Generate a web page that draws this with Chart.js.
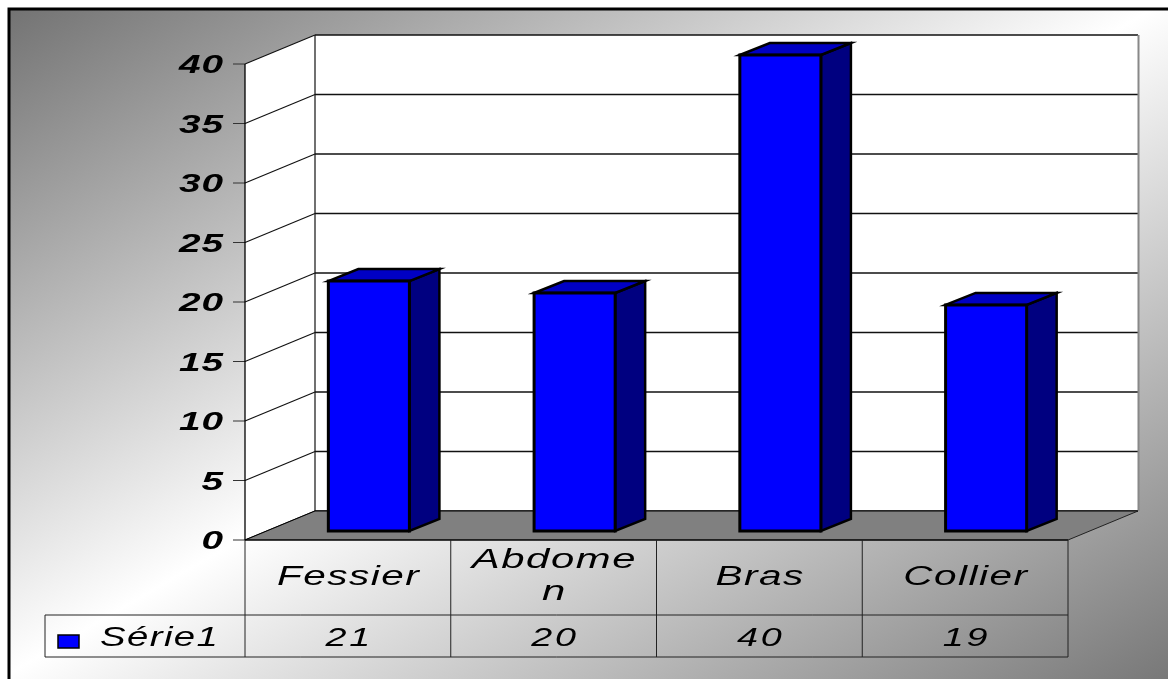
<!DOCTYPE html>
<html>
<head>
<meta charset="utf-8">
<script src="https://cdn.jsdelivr.net/npm/chart.js@4/dist/chart.umd.min.js"></script>
<style>
  html, body { margin: 0; padding: 0; background: #fff; }
  canvas { display: block; }
</style>
</head>
<body>
<canvas id="myChart" width="1168" height="679"></canvas>
<script>
    // data
    const categories = ['Fessier', 'Abdomen', 'Bras', 'Collier'];
    const tickLabels = ['Fessier', ['Abdome', 'n'], 'Bras', 'Collier'];
    const seriesName = 'Série1';
    const values = [21, 20, 40, 19];
    const yTicks = [0, 5, 10, 15, 20, 25, 30, 35, 40];

    // 3d offsets relative to the plane the bar fronts sit on
    const FRONT = { dx: -21, dy: 9 };   // front edge of floor / axis
    const BACK = { dx: 49, dy: -20 };   // back wall
    const BAR_DEPTH = { dx: 30, dy: -12 };

    const FONT = '"Liberation Sans", Arial, sans-serif';

    // stretched text, the way the old office charts print it
    function wideText(ctx, str, x, baseY, font, sx, ls, align) {
      ctx.save();
      ctx.font = font;
      ctx.letterSpacing = ls + 'px';
      const w = (ctx.measureText(str).width - ls) * sx;
      let x0 = x - w / 2;
      if (align === 'right') x0 = x - w;
      if (align === 'left') x0 = x;
      ctx.translate(x0, baseY);
      ctx.scale(sx, 1);
      ctx.textAlign = 'left';
      ctx.fillStyle = '#000';
      ctx.fillText(str, 0, 0);
      ctx.restore();
    }

    function poly(ctx, pts, fill, stroke, lw) {
      ctx.beginPath();
      ctx.moveTo(pts[0][0], pts[0][1]);
      for (let i = 1; i < pts.length; i++) ctx.lineTo(pts[i][0], pts[i][1]);
      ctx.closePath();
      if (fill) { ctx.fillStyle = fill; ctx.fill(); }
      if (stroke) { ctx.strokeStyle = stroke; ctx.lineWidth = lw; ctx.stroke(); }
    }

    function line(ctx, x1, y1, x2, y2, color, lw) {
      ctx.beginPath();
      ctx.moveTo(x1, y1);
      ctx.lineTo(x2, y2);
      ctx.strokeStyle = color;
      ctx.lineWidth = lw;
      ctx.stroke();
    }

    const scene3d = {
      id: 'scene3d',
      beforeDraw(chart) {
        const ctx = chart.ctx;
        const W = chart.width, H = chart.height;
        ctx.save();
        ctx.fillStyle = '#fff';
        ctx.fillRect(0, 0, W, H);
        // diagonal gray-white-gray fill
        const g = ctx.createLinearGradient(289, -168, 879, 847);
        g.addColorStop(0, '#707070');
        g.addColorStop(0.5, '#ffffff');
        g.addColorStop(1, '#787878');
        ctx.fillStyle = g;
        ctx.fillRect(8, 8, W, H);
        ctx.strokeStyle = '#000';
        ctx.lineWidth = 3;
        ctx.strokeRect(9, 9, W + 20, H + 20);
        ctx.restore();
      },
      beforeDatasetsDraw(chart) {
        const ctx = chart.ctx;
        const a = chart.chartArea;
        const ys = chart.scales.y;
        const y0 = ys.getPixelForValue(0), yTop = ys.getPixelForValue(yTicks[yTicks.length - 1]);
        const fl = a.left + FRONT.dx, fr = a.right + FRONT.dx;
        const bl = a.left + BACK.dx, br = a.right + BACK.dx;
        ctx.save();
        // back wall
        poly(ctx, [[bl, yTop + BACK.dy], [br, yTop + BACK.dy], [br, y0 + BACK.dy], [bl, y0 + BACK.dy]], '#fff');
        // side wall
        poly(ctx, [[fl, yTop + FRONT.dy], [bl, yTop + BACK.dy], [bl, y0 + BACK.dy], [fl, y0 + FRONT.dy]], '#fff');
        // gridlines on both walls
        yTicks.forEach(v => {
          const y = ys.getPixelForValue(v);
          line(ctx, fl, y + FRONT.dy, bl, y + BACK.dy, '#111', 1.2);
          line(ctx, bl, y + BACK.dy, br, y + BACK.dy, '#111', 1.3);
          // tick marks
          line(ctx, fl - 12, y + FRONT.dy, fl, y + FRONT.dy, '#333', 1);
        });
        line(ctx, bl, yTop + BACK.dy, bl, y0 + BACK.dy, '#111', 1.2);
        line(ctx, br + 0.5, yTop + BACK.dy, br + 0.5, y0 + BACK.dy, '#888', 2);
        line(ctx, fl, yTop + FRONT.dy, fl, y0 + FRONT.dy, '#000', 1.3);
        // floor
        poly(ctx, [[fl, y0 + FRONT.dy], [bl, y0 + BACK.dy], [br, y0 + BACK.dy], [fr, y0 + FRONT.dy]], '#808080');
        line(ctx, fl, y0 + FRONT.dy, bl, y0 + BACK.dy, '#000', 1);
        line(ctx, bl, y0 + BACK.dy, br, y0 + BACK.dy, '#000', 1.2);
        line(ctx, fr, y0 + FRONT.dy, br, y0 + BACK.dy, '#222', 1);
        ctx.restore();
      },
      afterDatasetsDraw(chart) {
        const ctx = chart.ctx;
        const meta = chart.getDatasetMeta(0);
        ctx.save();
        ctx.lineJoin = 'miter';
        meta.data.forEach(bar => {
          const p = bar.getProps(['x', 'y', 'base', 'width'], true);
          const l = p.x - p.width / 2, r = p.x + p.width / 2;
          const t = p.y, b = p.base;
          const dx = BAR_DEPTH.dx, dy = BAR_DEPTH.dy;
          poly(ctx, [[r, t], [r + dx, t + dy], [r + dx, b + dy], [r, b]], '#000080', '#000', 2.5);
          poly(ctx, [[l, t], [l + dx, t + dy], [r + dx, t + dy], [r, t]], '#0000c4', '#000', 2.5);
          poly(ctx, [[l, t], [r, t], [r, b], [l, b]], '#0000ff', '#000', 3);
        });
        ctx.restore();
      },
      afterDraw(chart) {
        const ctx = chart.ctx;
        const a = chart.chartArea;
        const ys = chart.scales.y;
        const y0 = ys.getPixelForValue(0) + FRONT.dy;
        const fl = a.left + FRONT.dx, fr = a.right + FRONT.dx;
        const colW = (fr - fl) / categories.length;
        const rowMid = y0 + 75, rowBot = y0 + 117, legendLeft = 45;
        ctx.save();

        // value axis labels
        yTicks.forEach(v => {
          const y = ys.getPixelForValue(v) + FRONT.dy;
          wideText(ctx, String(v), fl - 22, y + 9, 'italic bold 25px ' + FONT, 1.55, 0.5, 'right');
        });

        // data table grid
        line(ctx, fl, y0, fr, y0, '#000', 1.5);
        line(ctx, legendLeft, rowMid, fr, rowMid, '#222', 1);
        line(ctx, legendLeft, rowBot, fr, rowBot, '#222', 1);
        line(ctx, legendLeft, rowMid, legendLeft, rowBot, '#222', 1);
        for (let i = 0; i <= categories.length; i++) {
          const x = fl + i * colW;
          line(ctx, x, y0, x, rowBot, '#222', 1);
        }

        // category names and values
        const cellFont = 'italic 27px ' + FONT;
        tickLabels.forEach((lab, i) => {
          const cx = fl + (i + 0.5) * colW;
          if (Array.isArray(lab)) {
            wideText(ctx, lab[0], cx, y0 + 28, cellFont, 1.55, 1);
            wideText(ctx, lab[1], cx, y0 + 60, cellFont, 1.55, 1);
          } else {
            wideText(ctx, lab, cx, y0 + 45, cellFont, 1.5, 1);
          }
          wideText(ctx, String(values[i]), cx, rowBot - 11, 'italic 26px ' + FONT, 1.45, 2);
        });

        // legend key
        ctx.fillStyle = '#0000ff';
        ctx.fillRect(58, 635, 21, 13);
        ctx.strokeStyle = '#000';
        ctx.lineWidth = 1.5;
        ctx.strokeRect(58, 635, 21, 13);
        ctx.restore();
        wideText(ctx, seriesName, 100, rowBot - 11, cellFont, 1.42, 1, 'left');
      }
    };

    const data = {
      labels: categories,
      datasets: [{
        label: seriesName,
        data: values,
        backgroundColor: 'rgba(0,0,0,0)',
        borderWidth: 0,
        categoryPercentage: 1,
        barPercentage: 0.394
      }]
    };

    const config = {
      type: 'bar',
      data,
      options: {
        responsive: false,
        animation: false,
        devicePixelRatio: 1,
        layout: {
          padding: { left: 266, right: 79, top: 55, bottom: 148 }
        },
        plugins: {
          legend: { display: false },
          tooltip: { enabled: false }
        },
        scales: {
          x: { display: false },
          y: { display: false, min: 0, max: 40 }
        }
      },
      plugins: [scene3d]
    };

    const myChart = new Chart(document.getElementById('myChart'), config);
</script>
</body>
</html>
